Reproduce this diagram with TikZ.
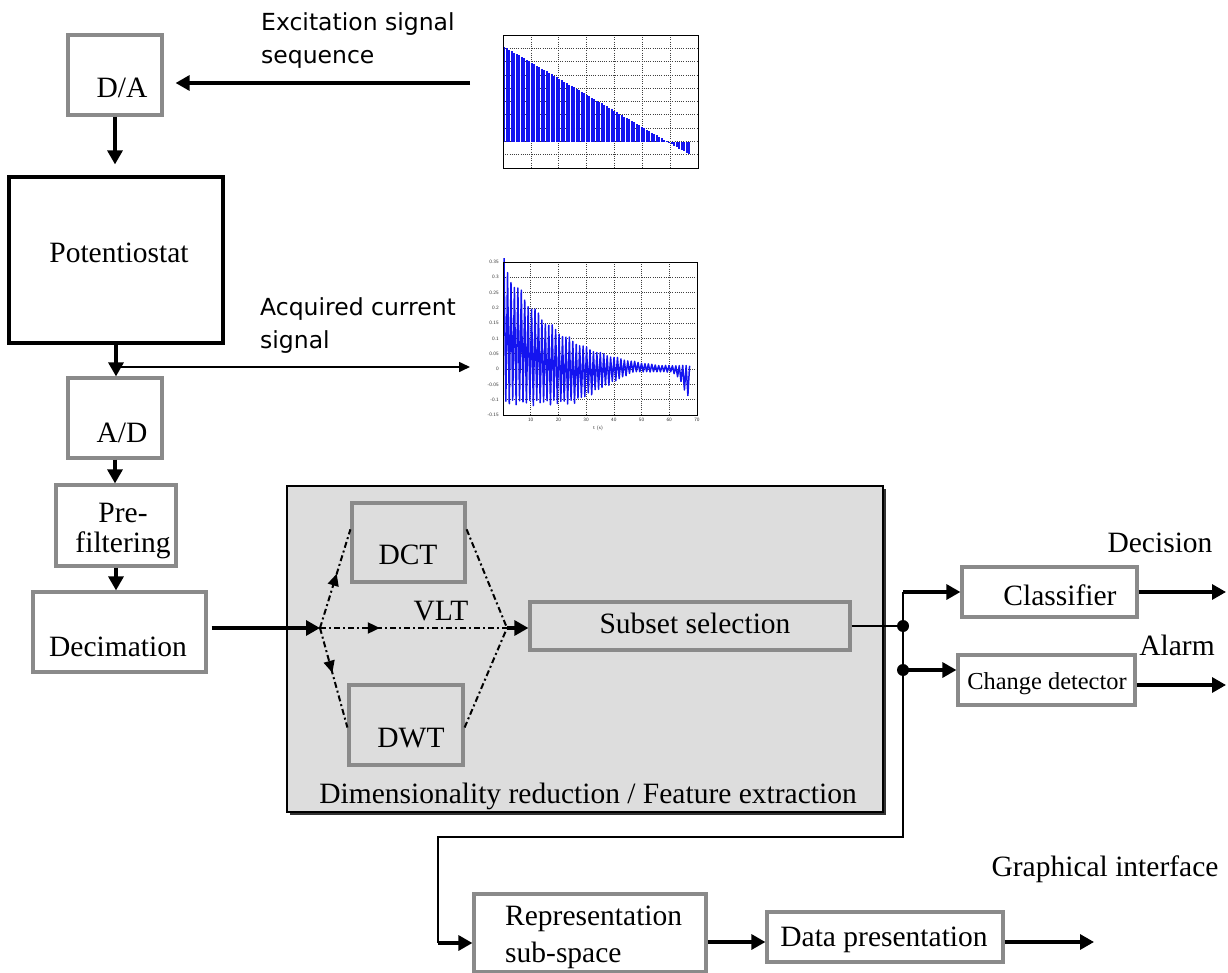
\documentclass[tikz,border=0pt]{standalone}
\usepackage{fontspec}
\setmainfont{Liberation Serif}
\newfontfamily\labsans{DejaVu Sans}
\usetikzlibrary{arrows.meta,calc,decorations.markings}
\definecolor{bord}{HTML}{8A8A8A}
\definecolor{panel}{HTML}{DDDDDD}
\definecolor{pblue}{HTML}{1414F0}
\tikzset{
  gbox/.style={draw=bord, line width=3.2pt, fill=white, inner sep=0pt},
  ibox/.style={draw=bord, line width=3.2pt, inner sep=0pt},
  txt/.style={inner sep=0pt, font=\fontsize{29.5}{33}\selectfont},
  stxt/.style={inner sep=0pt, font=\labsans\fontsize{23.5}{33}\selectfont, align=left},
  arr/.style={line width=3.2pt, -{Triangle[length=14pt,width=15pt]}},
  thinarr/.style={line width=1.6pt, -{Triangle[length=11pt,width=10pt]}},
  dd/.style={line width=2pt, dash pattern=on 6pt off 3pt on 2pt off 3pt},
  midarr/.style={postaction={decorate}, decoration={markings, mark=at position #1 with {\arrow{Triangle[length=12pt,width=11pt]}}}},
  gridl/.style={line width=0.7pt, dash pattern=on 1pt off 1.2pt, black!75},
  ticklab/.style={inner sep=0pt, font=\sffamily\fontsize{5}{5}\selectfont, text=black!80},
  declare function={
    U(\t)=max(0.38*exp(-\t/20)-0.01,0.012);
    L(\t)=-0.12+0.11*min(max(\t-25,0),22)/22-0.13*(max(\t-60,0)/8)^2;
  }
}
\begin{document}
\begin{tikzpicture}[x=1pt,y=-1pt]
\useasboundingbox (0,0) rectangle (1228,973);
% ---------- panel ----------
\fill[black!80] (289.5,488.5) rectangle (885.5,814.5);
\node[draw=black, line width=1.8pt, fill=panel, minimum width=596pt, minimum height=326pt, inner sep=0pt] (panel) at (585,649) {};
\node[txt] (panT) at (588,796) {Dimensionality reduction / Feature extraction};
% ---------- left chain ----------
\node[gbox, minimum width=94pt, minimum height=80pt] (da) at (115,75) {};
\node[txt] (daT) at (122,88) {D/A};
\node[draw=black, line width=3.2pt, fill=white, inner sep=0pt, minimum width=214pt, minimum height=166pt] (pot) at (116,260) {};
\node[txt] (potT) at (119,253) {Potentiostat};
\node[gbox, minimum width=94pt, minimum height=80pt] (ad) at (115,418) {};
\node[txt] (adT) at (122,433) {A/D};
\node[gbox, minimum width=120pt, minimum height=81pt] (pf) at (116,525.5) {};
\node[txt, align=center, font=\fontsize{29.5}{30}\selectfont] (pfT) at (123,531) {Pre-\\filtering};
\node[gbox, minimum width=173pt, minimum height=80pt] (dec) at (119.5,632) {};
\node[txt] (decT) at (118,647) {Decimation};
% ---------- inside panel ----------
\node[ibox, minimum width=113pt, minimum height=79pt] (dct) at (408.5,542.5) {};
\node[txt] (dctT) at (408,555) {DCT};
\node[ibox, minimum width=114pt, minimum height=80pt] (dwt) at (406,725) {};
\node[txt] (dwtT) at (411,738) {DWT};
\node[txt] (vlt) at (441,611) {VLT};
\node[ibox, minimum width=320pt, minimum height=48pt] (sub) at (690,626) {};
\node[txt] (subT) at (695,623) {Subset selection};
% ---------- right ----------
\node[gbox, minimum width=175pt, minimum height=50pt] (cls) at (1049.5,592) {};
\node[txt] (clsT) at (1060,595) {Classifier};
\node[txt] (decis) at (1160,543) {Decision};
\node[gbox, minimum width=177pt, minimum height=50pt] (cd) at (1046.5,680) {};
\node[txt, font=\fontsize{24.4}{28}\selectfont] (cdT) at (1047,684) {Change detector};
\node[txt] (alarm) at (1177,645) {Alarm};
% ---------- bottom ----------
\node[gbox, minimum width=232pt, minimum height=78pt] (rep) at (590,933) {};
\node[txt, align=left, anchor=west, font=\fontsize{29.5}{37}\selectfont] (repT) at (505,937) {Representation\\sub-space};
\node[gbox, minimum width=236pt, minimum height=50pt] (dp) at (885,937) {};
\node[txt] (dpT) at (884,940) {Data presentation};
\node[txt] (gi) at (1105,869) {Graphical interface};
% ---------- sans labels ----------
\node[stxt, anchor=west] (excT) at (261,41) {Excitation signal\\sequence};
\node[stxt, anchor=west] (acqT) at (260,326) {Acquired current\\signal};
% ---------- coordinates ----------
\coordinate (excS) at (470,83);
\coordinate (acqE) at (470,367);
\coordinate (brk) at (116,367);
\coordinate (split) at (320,628);
\coordinate (merge) at (507,628);
\coordinate (j0) at (903,592);
\coordinate (j1) at (903,626);
\coordinate (j2) at (903,670);
\coordinate (jb) at (903,837);
\coordinate (lb) at (438,837);
\coordinate (lr) at (438,943);
\coordinate (outC) at (1226,592);
\coordinate (outA) at (1226,685);
\coordinate (outG) at (1094,942);
\coordinate (dctL) at ($(dct.north west)!0.34!(dct.south west)$);
\coordinate (dctR) at ($(dct.north east)!0.34!(dct.south east)$);
\coordinate (dwtL) at ($(dwt.north west)!0.53!(dwt.south west)$);
\coordinate (dwtR) at ($(dwt.north east)!0.53!(dwt.south east)$);
% ---------- connectors ----------
\draw[arr, shorten >=12pt] (excS) -- (da.east |- excS);
\draw[arr, shorten >=11pt] (da.south) -- (da.south |- pot.north);
\draw[arr] (pot.south) -- (pot.south |- ad.north);
\draw[thinarr] (brk) -- (acqE);
\draw[arr] (ad.south) -- (ad.south |- pf.north);
\draw[arr] (pf.south) -- (pf.south |- dec.north);
\draw[arr, shorten <=4pt] (dec.east |- split) -- (split);
\draw[dd, midarr=0.55] (split) -- (dctL);
\draw[dd, midarr=0.45] (split) -- (dwtL);
\draw[dd, midarr=0.32] (split) -- (merge);
\draw[dd] (dctR) -- (merge);
\draw[dd] (dwtR) -- (merge);
\draw[arr] (merge) -- (sub.west |- merge);
\draw[line width=1.5pt] (sub.east) -- (j1);
\draw[line width=2.2pt] (j0) -- (jb) -- (lb) -- (lr);
\draw[arr] (lr) -- (rep.west |- lr);
\draw[arr] (j0) -- (cls.west);
\draw[arr] (j2) -- (cd.west |- j2);
\fill (j1) circle (6pt);
\fill (j2) circle (6pt);
\draw[arr] (cls.east) -- (outC);
\draw[arr] (cd.east |- outA) -- (outA);
\draw[arr] (rep.east |- outG) -- (dp.west |- outG);
\draw[arr] (dp.east |- outG) -- (outG);
% ---------- plot 1: excitation ----------
\fill[white] (503,35) rectangle (698,168);
\foreach \i in {1,...,6} \draw[gridl] ({503+\i*195/7},35) -- ({503+\i*195/7},168);
\foreach \j in {1,...,9} \draw[gridl] (503,{35+\j*13.3}) -- (698,{35+\j*13.3});
\foreach \i in {0,...,74} {
  \pgfmathsetmacro\xx{504.2+2.5*\i}
  \pgfmathsetmacro\yy{46+(\xx-503)*0.582}
  \draw[pblue, line width=2.3pt] (\xx,142) -- (\xx,\yy);
}
\node[draw=black, line width=0.9pt, inner sep=0pt, minimum width=195pt, minimum height=133pt] (plotA) at (600.5,101.5) {};
% ---------- plot 2: current ----------
\foreach \i in {1,...,6} \draw[gridl] ({503+\i*194/7},262) -- ({503+\i*194/7},415);
\foreach \j in {1,...,9} \draw[gridl] (503,{262+\j*15.3}) -- (697,{262+\j*15.3});
\draw[pblue, line width=1.5pt, line join=round] (504,{369-306*U(0.4)})
  \foreach \k in {1,...,108} {
    -- ({503+2.77*(0.4+0.62*\k)},
        {369-306*(isodd(\k) ? L(0.4+0.62*\k)*(1-0.15*abs(sin(\k*53))) : U(0.4+0.62*\k)*(1-0.12*abs(sin(\k*71))))})
  };
\node[draw=black, line width=0.9pt, inner sep=0pt, minimum width=194pt, minimum height=153pt] (plotB) at (600,338.5) {};
\foreach \v [count=\k from 0] in {0.35,0.3,0.25,0.2,0.15,0.1,0.05,0,-0.05,-0.1,-0.15}
  \node[ticklab, anchor=east] (yl\k) at (499,{262+\k*15.3}) {\v};
\foreach \v in {10,20,30,40,50,60,70}
  \node[ticklab] (xl\v) at ({503+2.77*\v},420) {\v};
\node[ticklab] (xlab) at (598,428) {t (s)};
\end{tikzpicture}
\end{document}
